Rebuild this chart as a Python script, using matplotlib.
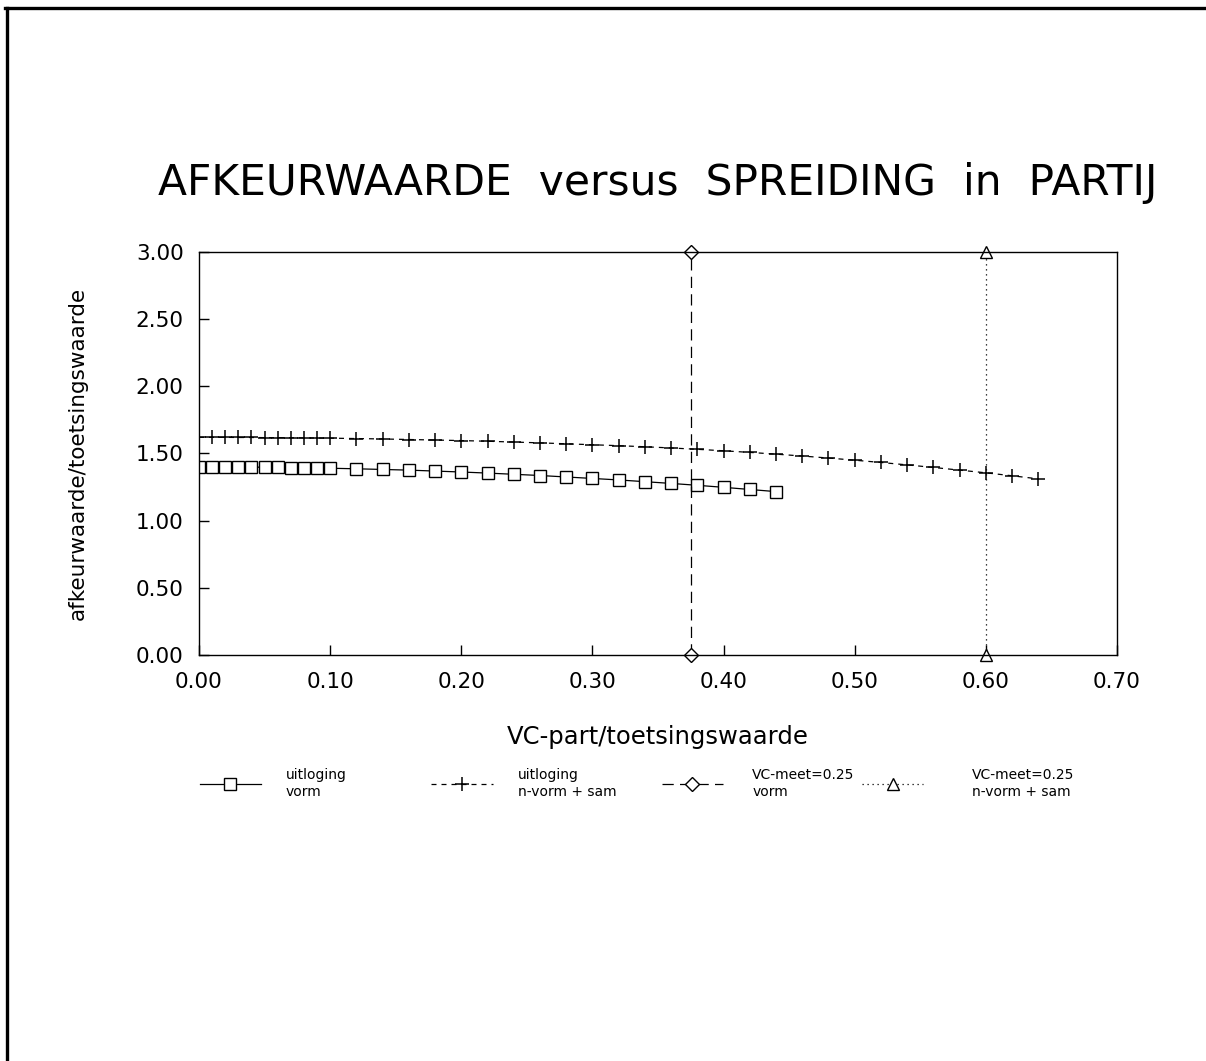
import matplotlib
matplotlib.use("Agg")
import matplotlib.pyplot as plt
from matplotlib.lines import Line2D

# uitloging vorm
x_vorm = [0.00, 0.01, 0.02, 0.03, 0.04, 0.05, 0.06, 0.07, 0.08, 0.09, 0.10,
          0.12, 0.14, 0.16, 0.18, 0.20, 0.22, 0.24, 0.26, 0.28, 0.30,
          0.32, 0.34, 0.36, 0.38, 0.40, 0.42, 0.44]
y_vorm = [1.400, 1.400, 1.400, 1.399, 1.398, 1.398, 1.397, 1.395, 1.394, 1.392, 1.390,
          1.386, 1.381, 1.376, 1.369, 1.362, 1.354, 1.345, 1.336, 1.325, 1.314,
          1.303, 1.290, 1.277, 1.263, 1.248, 1.232, 1.216]

# uitloging n-vorm + sam
x_nvorm = [0.00, 0.01, 0.02, 0.03, 0.04, 0.05, 0.06, 0.07, 0.08, 0.09, 0.10,
           0.12, 0.14, 0.16, 0.18, 0.20, 0.22, 0.24, 0.26, 0.28, 0.30,
           0.32, 0.34, 0.36, 0.38, 0.40, 0.42, 0.44, 0.46, 0.48, 0.50,
           0.52, 0.54, 0.56, 0.58, 0.60, 0.62, 0.64]
y_nvorm = [1.620, 1.620, 1.620, 1.619, 1.619, 1.618, 1.618, 1.617, 1.616, 1.615, 1.614,
           1.611, 1.608, 1.604, 1.600, 1.596, 1.591, 1.585, 1.579, 1.572, 1.565,
           1.558, 1.550, 1.541, 1.531, 1.520, 1.508, 1.495, 1.481, 1.466, 1.450,
           1.433, 1.415, 1.396, 1.376, 1.356, 1.334, 1.311]

# VC-meet=0.25 grenzen
x_meet_vorm = [0.375, 0.375]
y_meet_vorm = [0.0, 3.0]
x_meet_nvorm = [0.60, 0.60]
y_meet_nvorm = [0.0, 3.0]

labels = ['uitloging\nvorm', 'uitloging\nn-vorm + sam',
          'VC-meet=0.25\nvorm', 'VC-meet=0.25\nn-vorm + sam']

xticks = [0.0, 0.1, 0.2, 0.3, 0.4, 0.5, 0.6, 0.7]
yticks = [0.0, 0.5, 1.0, 1.5, 2.0, 2.5, 3.0]

plt.rcParams['font.family'] = ['DejaVu Sans']

fig = plt.figure(figsize=(12.06, 10.61), dpi=100)
ax = fig.add_axes([0.165, 0.3827, 0.7612, 0.3798])

lw = 0.9
l1, = ax.plot(x_vorm, y_vorm, '-', color='black', lw=lw, marker='s', ms=8,
              mfc='white', mec='black', mew=1.0)
l2, = ax.plot(x_nvorm, y_nvorm, color='black', lw=lw, ls=(0, (4, 4)), marker='+',
              ms=10, mew=1.1)
l3, = ax.plot(x_meet_vorm, y_meet_vorm, color='black', lw=lw, ls=(0, (9, 5)),
              marker='D', ms=7, mfc='white', mec='black', mew=1.0, clip_on=False)
l4, = ax.plot(x_meet_nvorm, y_meet_nvorm, color='black', lw=lw, ls=(0, (1, 3)),
              marker='^', ms=9, mfc='white', mec='black', mew=1.0, clip_on=False)

ax.set_xlim(0, 0.7)
ax.set_ylim(0, 3.0)
ax.set_xticks(xticks)
ax.set_yticks(yticks)
ax.set_xticklabels(["%.2f" % v for v in xticks])
ax.set_yticklabels(["%.2f" % v for v in yticks])
ax.tick_params(direction='in', length=7, width=1, labelsize=15.5,
               top=False, right=False)
ax.tick_params(axis='x', pad=12)
ax.tick_params(axis='y', pad=11)
for s in ax.spines.values():
    s.set_linewidth(1.0)

ax.set_xlabel('VC-part/toetsingswaarde', fontsize=17.5)
ax.xaxis.set_label_coords(0.5, -0.175)
ax.set_ylabel('afkeurwaarde/toetsingswaarde', fontsize=15.5)
ax.yaxis.set_label_coords(-0.121, 0.5)

fig.text(0.5456, 0.8275, 'AFKEURWAARDE  versus  SPREIDING  in  PARTIJ',
         ha='center', va='center', fontsize=30.5)

# one small legend per series, side by side
leg_x = [0.160, 0.352, 0.543, 0.709]
pads = [1.8, 1.8, 2.1, 3.5]
for h, lab, lx, pad in zip([l1, l2, l3, l4], labels, leg_x, pads):
    leg = fig.legend([h], [lab], loc='upper left', bbox_to_anchor=(lx, 0.283),
                     frameon=False, fontsize=10, numpoints=1,
                     handlelength=4.4, handletextpad=pad, borderpad=0,
                     labelspacing=0)
    for t in leg.get_texts():
        t.set_linespacing(1.3)

# page frame, top and left only
fig.add_artist(Line2D([0.004, 1.0], [0.9925, 0.9925], color='black', lw=2.4,
                      transform=fig.transFigure))
fig.add_artist(Line2D([0.0055, 0.0055], [0.0, 0.9925], color='black', lw=2.4,
                      transform=fig.transFigure))

fig.savefig('out.png', dpi=100, facecolor='white')
